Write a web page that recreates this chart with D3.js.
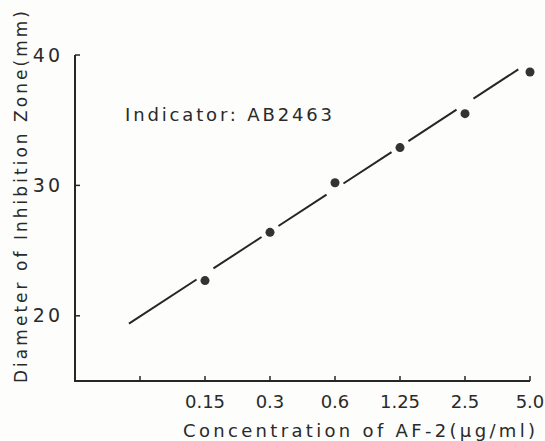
<!DOCTYPE html>
<html>
<head>
<meta charset="utf-8">
<script src="https://cdn.jsdelivr.net/npm/d3@7"></script>
<style>
  html, body { margin: 0; padding: 0; background: #fdfdfb; }
  svg { display: block; }
  text { font-family: "DejaVu Sans", sans-serif; fill: #2a2a2a; }
</style>
</head>
<body>
<svg id="chart" width="545" height="441"></svg>
<script>
// tick labels along the bottom (first tick has no label)
var xTickLabels = ["", "0.15", "0.3", "0.6", "1.25", "2.5", "5.0"];
// measured points: concentration label and zone diameter (mm)
var concentrations = ["0.15", "0.3", "0.6", "1.25", "2.5", "5.0"];
var diameters = [22.7, 26.4, 30.2, 32.9, 35.5, 38.7];
// end points of the drawn fit line (tick index, mm)
var fitX = [-0.17, 5.82];
var fitY = [19.4, 38.9];
var yTicks = [20, 30, 40];

var svg = d3.select("#chart");
var ink = "#262626";

// x runs over tick index: -1 is the axis origin, 0..6 are the ticks
var x = d3.scaleLinear().domain([-1, 6]).range([75, 530]);
var y = d3.scaleLinear().domain([15, 40]).range([381, 55]);
// the fit line as a mapping from tick index to mm
var fit = d3.scaleLinear().domain(fitX).range(fitY);

// index of a concentration on the tick list
function xi(c){ return xTickLabels.indexOf(c); }

// axes frame
svg.append("path")
  .attr("d", "M" + x(-1) + "," + y(40) + "V" + y(15) + "H" + x(6))
  .attr("fill", "none").attr("stroke", ink).attr("stroke-width", 2);

// y ticks point inward, labels to the left
var yAxis = svg.append("g").attr("class", "y-axis");
yAxis.selectAll("line").data(yTicks).enter().append("line")
  .attr("x1", x(-1)).attr("x2", x(-1) + 5)
  .attr("y1", function(d){ return y(d); })
  .attr("y2", function(d){ return y(d); })
  .attr("stroke", ink).attr("stroke-width", 1.5);
yAxis.selectAll("text").data(yTicks).enter().append("text")
  .attr("x", 63).attr("y", function(d){ return y(d); })
  .attr("dy", "0.35em").attr("text-anchor", "end")
  .style("font-size", "19px").style("letter-spacing", "3px")
  .text(function(d){ return d; });

// x ticks point upward, labels below
var xAxis = svg.append("g").attr("class", "x-axis");
xAxis.selectAll("line").data(xTickLabels).enter().append("line")
  .attr("x1", function(d, i){ return x(i); })
  .attr("x2", function(d, i){ return x(i); })
  .attr("y1", y(15)).attr("y2", y(15) - 5)
  .attr("stroke", ink).attr("stroke-width", 1.5);
xAxis.selectAll("text").data(xTickLabels).enter().append("text")
  .attr("x", function(d, i){ return x(i); })
  .attr("y", 408).attr("text-anchor", "middle")
  .style("font-size", "18px")
  .text(function(d){ return d; });

// fit line, broken into pieces with a small gap at each point
var gap = 0.13;
var cuts = [fitX[0]];
concentrations.forEach(function(c){
  var i = xi(c);
  if (i - gap > fitX[0] && i + gap < fitX[1]) { cuts.push(i - gap, i + gap); }
});
cuts.push(fitX[1]);
var pieces = [];
for (var k = 0; k < cuts.length; k += 2) pieces.push([cuts[k], cuts[k + 1]]);

svg.append("g").attr("class", "fit").selectAll("line").data(pieces).enter().append("line")
  .attr("x1", function(d){ return x(d[0]); })
  .attr("y1", function(d){ return y(fit(d[0])); })
  .attr("x2", function(d){ return x(d[1]); })
  .attr("y2", function(d){ return y(fit(d[1])); })
  .attr("stroke", ink).attr("stroke-width", 2);

// data points
svg.append("g").attr("class", "points")
  .selectAll("circle").data(concentrations).enter().append("circle")
  .attr("cx", function(d){ return x(xi(d)); })
  .attr("cy", function(d, i){ return y(diameters[i]); })
  .attr("r", 4.5).attr("fill", "#333");

// annotation
svg.append("text")
  .attr("x", 125).attr("y", 121)
  .attr("textLength", 207).attr("lengthAdjust", "spacing")
  .style("font-size", "18px")
  .text("Indicator: AB2463");

// axis titles
svg.append("text")
  .attr("x", 183).attr("y", 437)
  .attr("textLength", 352).attr("lengthAdjust", "spacing")
  .style("font-size", "18px")
  .text("Concentration of AF-2(\u00b5g/ml)");

svg.append("text")
  .attr("transform", "translate(27,383) rotate(-90)")
  .attr("textLength", 372).attr("lengthAdjust", "spacing")
  .style("font-size", "17px")
  .text("Diameter of Inhibition Zone(mm)");
</script>
</body>
</html>
